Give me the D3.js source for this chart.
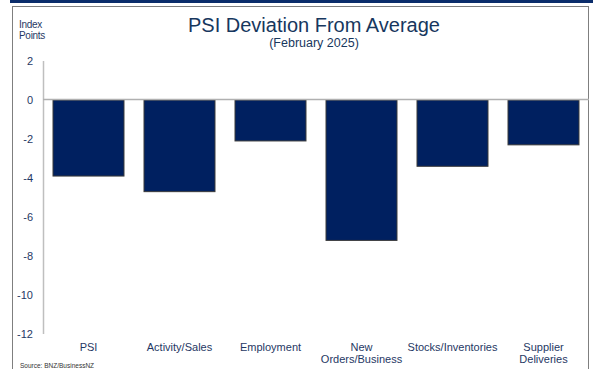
<!DOCTYPE html>
<html>
<head>
<meta charset="utf-8">
<script src="https://cdn.jsdelivr.net/npm/d3@7.9.0/dist/d3.min.js"></script>
<style>
  body { margin: 0; background: #fff; }
  svg { display: block; font-family: "Liberation Sans", Arial, sans-serif; }
</style>
</head>
<body>
<svg width="593" height="369"></svg>
<script>
const categories = ['PSI', 'Activity/Sales', 'Employment', 'New Orders/Business', 'Stocks/Inventories', 'Supplier Deliveries'];
const labelLines = [['PSI'], ['Activity/Sales'], ['Employment'], ['New', 'Orders/Business'], ['Stocks/Inventories'], ['Supplier', 'Deliveries']];
const values = [-3.9, -4.7, -2.1, -7.2, -3.4, -2.3];
const yTicks = [2, 0, -2, -4, -6, -8, -10, -12];

const navy = '#1f3864';
const svg = d3.select('svg');

// top banner and frame
svg.append('rect').attr('x', 10).attr('y', 0).attr('width', 583).attr('height', 3).attr('fill', '#0b2d6b');
svg.append('rect').attr('x', 12.5).attr('y', 6.5).attr('width', 576).attr('height', 380)
  .attr('fill', 'none').attr('stroke', '#7f7f7f').attr('stroke-width', 1);

let x = d3.scaleBand().domain(categories).range([43, 589]).paddingInner(0.22).paddingOuter(0.11);
let y = d3.scaleLinear().domain([-12, 2]).range([334, 61]);

// y axis line
svg.append('line').attr('x1', 43.5).attr('x2', 43.5).attr('y1', y(2)).attr('y2', y(-12))
  .attr('stroke', '#bfbfbf').attr('stroke-width', 1.5);

// tick labels
svg.append('g').selectAll('text').data(yTicks).join('text')
  .attr('x', 33).attr('y', (d) => y(d) + 4)
  .attr('text-anchor', 'end').attr('font-size', 11).attr('fill', navy)
  .text((d) => d);

// bars
svg.append('g').selectAll('rect').data(values).join('rect')
  .attr('x', (d, i) => x(categories[i]))
  .attr('y', (d) => y(Math.max(0, d)))
  .attr('width', x.bandwidth())
  .attr('height', (d) => Math.abs(y(d) - y(0)))
  .attr('fill', '#002060')
  .attr('stroke', '#3a3a3a').attr('stroke-width', 1);

// zero line
svg.append('line').attr('x1', 43).attr('x2', 589).attr('y1', y(0) - 0.5).attr('y2', y(0) - 0.5)
  .attr('stroke', '#b0b0b0').attr('stroke-width', 1.5);

// category labels
labelLines.forEach((lines, i) => {
  let t = svg.append('text')
    .attr('x', x(categories[i]) + x.bandwidth() / 2)
    .attr('y', 351)
    .attr('text-anchor', 'middle').attr('font-size', 11).attr('fill', navy);
  lines.forEach((l, j) => {
    t.append('tspan').attr('x', x(categories[i]) + x.bandwidth() / 2).attr('dy', j === 0 ? 0 : 12).text(l);
  });
});

// titles
svg.append('text').attr('x', 314).attr('y', 32).attr('text-anchor', 'middle')
  .attr('font-size', 20).attr('fill', '#17375e').text('PSI Deviation From Average');
svg.append('text').attr('x', 314).attr('y', 47).attr('text-anchor', 'middle')
  .attr('font-size', 12.5).attr('fill', '#17375e').text('(February 2025)');
svg.append('text').attr('x', 19).attr('y', 28).attr('font-size', 10).attr('fill', navy)
  .attr('letter-spacing', -0.3).text('Index');
svg.append('text').attr('x', 19).attr('y', 39).attr('font-size', 10).attr('fill', navy)
  .attr('letter-spacing', -0.3).text('Points');

svg.append('text').attr('x', 20).attr('y', 368).attr('font-size', 6.5).attr('fill', '#333')
  .text('Source: BNZ/BusinessNZ');
</script>
</body>
</html>
